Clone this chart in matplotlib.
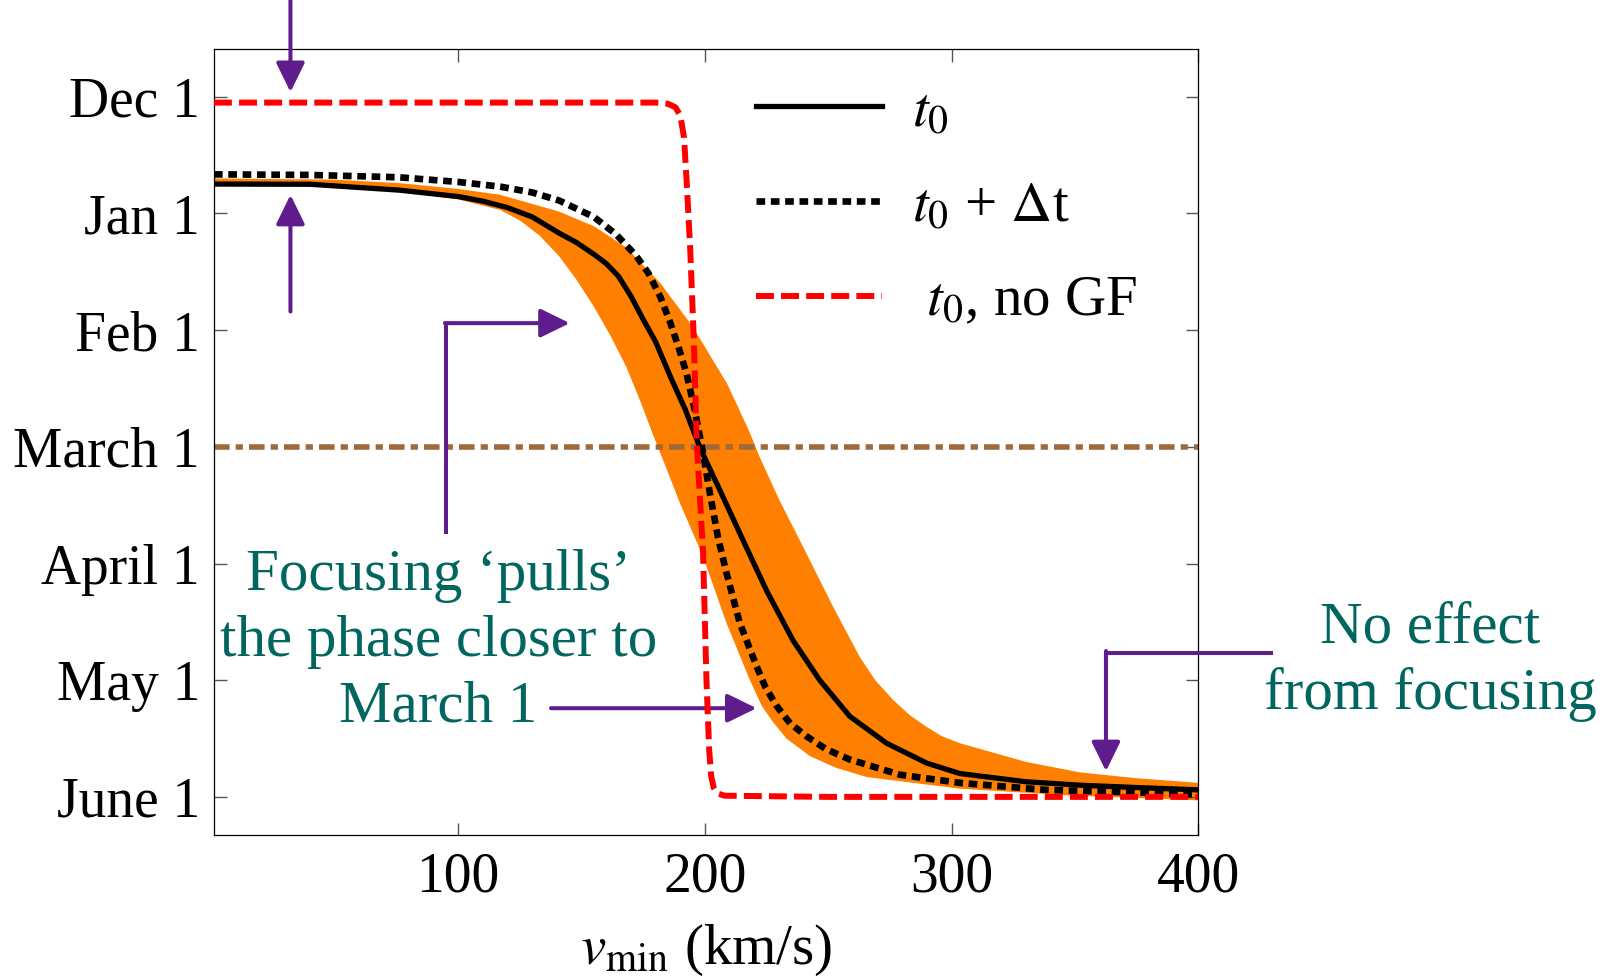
import numpy as np
import matplotlib
matplotlib.use("Agg")
import matplotlib.pyplot as plt

plt.rcParams['font.family'] = ['Liberation Serif', 'DejaVu Serif']
plt.rcParams['mathtext.fontset'] = 'stix'

# y values: months after Dec 1 (Dec 1 = 0 ... June 1 = 6)
month_labels = ['Dec 1', 'Jan 1', 'Feb 1', 'March 1', 'April 1', 'May 1', 'June 1']
month_ticks = [0, 1, 2, 3, 4, 5, 6]
x_ticks = [100, 200, 300, 400]

# t0 (solid black)
t0_x = [1, 40, 76, 100, 110, 120, 130, 141, 148, 155, 160, 165, 170, 175, 180, 186, 192, 198, 206,
        215.4, 224.9, 235.7, 246.5, 258.7, 273.6, 289.8, 303.3, 330, 352, 375, 400]
t0_y = [0.748, 0.75, 0.80, 0.855, 0.895, 0.95, 1.03, 1.17, 1.25, 1.35, 1.43, 1.54, 1.71, 1.91, 2.10, 2.40, 2.68, 3.01, 3.37,
        3.80, 4.23, 4.66, 5.00, 5.31, 5.54, 5.71, 5.80, 5.87, 5.90, 5.92, 5.94]

# t0 + dt (dotted black)
dt_x = [1, 40, 76, 100, 117, 130, 141, 155, 164, 172, 177, 182, 186, 189.5, 192.5, 196, 199, 202,
        205.3, 208.7, 214.1, 220.9, 224.5, 229, 234.5, 241.1, 249, 258.7, 279, 303.3, 338, 370, 400]
dt_y = [0.665, 0.67, 0.69, 0.73, 0.77, 0.82, 0.89, 1.03, 1.18, 1.36, 1.51, 1.72, 1.94, 2.16, 2.37, 2.70, 3.03, 3.40,
        3.78, 4.08, 4.51, 4.88, 5.06, 5.22, 5.37, 5.48, 5.59, 5.68, 5.81, 5.88, 5.94, 5.96, 5.98]

# t0, no GF (dashed red)
ngf_x = [1, 100, 180, 185, 188, 190, 191.5, 192.5, 194, 195.5, 196.6, 199.2, 200.6, 201.7, 202.5, 203.5, 205, 208, 250, 300, 400]
ngf_y = [0.05, 0.05, 0.05, 0.06, 0.09, 0.16, 0.35, 0.70, 1.30, 2.10, 2.94, 3.90, 5.00, 5.60, 5.82, 5.92, 5.97, 5.99, 6.0, 6.0, 6.0]

# orange band: early edge and late edge
band_hi_x = [1, 50, 76, 100, 117, 141, 155, 168, 182, 195, 209, 218, 222, 230, 238.4, 251.9, 262.7, 269, 276.3, 283,
             289.8, 296, 303.3, 330, 352, 375, 400]
band_hi_y = [0.70, 0.71, 0.74, 0.79, 0.84, 0.985, 1.11, 1.29, 1.60, 1.97, 2.46, 2.87, 3.08, 3.45, 3.80, 4.37, 4.80, 5.00, 5.17, 5.30,
             5.40, 5.48, 5.54, 5.70, 5.79, 5.84, 5.88]
band_lo_x = [1, 50, 76, 100, 117, 125, 133, 141, 148, 155, 162, 168, 174, 179, 185, 190, 199.2, 208.7, 218.2, 223,
             227.6, 233, 242.5, 253, 265.5, 303.3, 350, 400]
band_lo_y = [0.76, 0.765, 0.81, 0.88, 0.97, 1.06, 1.19, 1.37, 1.57, 1.80, 2.06, 2.31, 2.62, 2.90, 3.22, 3.49, 3.94, 4.51, 5.00, 5.22,
             5.36, 5.50, 5.65, 5.75, 5.83, 5.93, 5.99, 6.03]

march_level = 3.0

orange = '#FF7F00'
purple = '#5F1C8C'
teal = '#00665F'
brown = '#A0693A'

fig = plt.figure(figsize=(16.1, 9.77), dpi=100)
ax = fig.add_axes([0.1329, 0.1453, 0.6115, 0.8045])

ax.fill(np.concatenate([band_hi_x, band_lo_x[::-1]]),
        np.concatenate([band_hi_y, band_lo_y[::-1]]),
        color=orange, lw=0, zorder=1)
ax.axhline(march_level, color=brown, lw=4.0, linestyle=(0, (2.8, 1.1, 1.3, 1.1)), zorder=2)
ax.plot(t0_x, t0_y, color='black', lw=3.8, solid_joinstyle='round', zorder=4, label=r'$t_0$')
ax.plot(dt_x, dt_y, color='black', lw=4.8, linestyle=(0, (1.3, 0.85)), zorder=3,
        label=r'$t_0$ + $\Delta$t')
ax.plot(ngf_x, ngf_y, color='red', lw=4.3, linestyle=(0, (3.0, 1.2)), zorder=5,
        label=r' $t_0$, no GF')

ax.set_xlim(1, 400)
ax.set_ylim(6.327, -0.409)
ax.set_xticks(x_ticks)
ax.set_xticklabels([str(v) for v in x_ticks])
ax.set_yticks(month_ticks)
ax.set_yticklabels(month_labels)
ax.tick_params(direction='in', length=9, width=1, color='#555555', top=True, right=True,
               labelsize=40, pad=10)
ax.tick_params(axis='x', pad=12)
for s in ax.spines.values():
    s.set_linewidth(0.9)

ax.set_xlabel(r'$v_{\rm min}$ (km/s)', fontsize=41)
ax.xaxis.set_label_coords(0.5, -0.112)

leg = ax.legend(loc='upper left', bbox_to_anchor=(0.522, 0.989), frameon=False, fontsize=41,
                handlelength=2.2, handletextpad=0.53, labelspacing=0.75, borderpad=0)

# annotations
ax.text(92, 4.67, 'Focusing \u2018pulls\u2019\nthe phase closer to\nMarch 1', color=teal,
        fontsize=42.5, ha='center', va='center', multialignment='center', linespacing=1.28)
ax.text(494, 4.84, 'No effect\nfrom focusing', color=teal, fontsize=42.5,
        ha='center', va='center', multialignment='center', linespacing=1.28, clip_on=False)

arrow = dict(arrowstyle='-|>,head_length=0.45,head_width=0.22', color=purple, lw=2.9,
             mutation_scale=40, shrinkA=0, shrinkB=0)
ax.annotate('', xy=(32, -0.04), xytext=(32, -0.83), arrowprops=arrow, annotation_clip=False)
ax.annotate('', xy=(32, 0.84), xytext=(32, 1.84), arrowprops=arrow, annotation_clip=False)

ax.plot([95.2, 95.2], [3.75, 1.94], color=purple, lw=2.9, solid_capstyle='butt', zorder=6)
ax.annotate('', xy=(145.2, 1.94), xytext=(94.6, 1.94), arrowprops=arrow, annotation_clip=False)

ax.annotate('', xy=(220.9, 5.24), xytext=(137.6, 5.24), arrowprops=arrow, annotation_clip=False)

ax.plot([430, 362.5, 362.5], [4.77, 4.77, 5.0], color=purple, lw=2.9, solid_capstyle='butt',
        clip_on=False, zorder=6)
ax.annotate('', xy=(362.5, 5.78), xytext=(362.5, 4.75), arrowprops=arrow, annotation_clip=False)

fig.savefig('out.png', dpi=100)
